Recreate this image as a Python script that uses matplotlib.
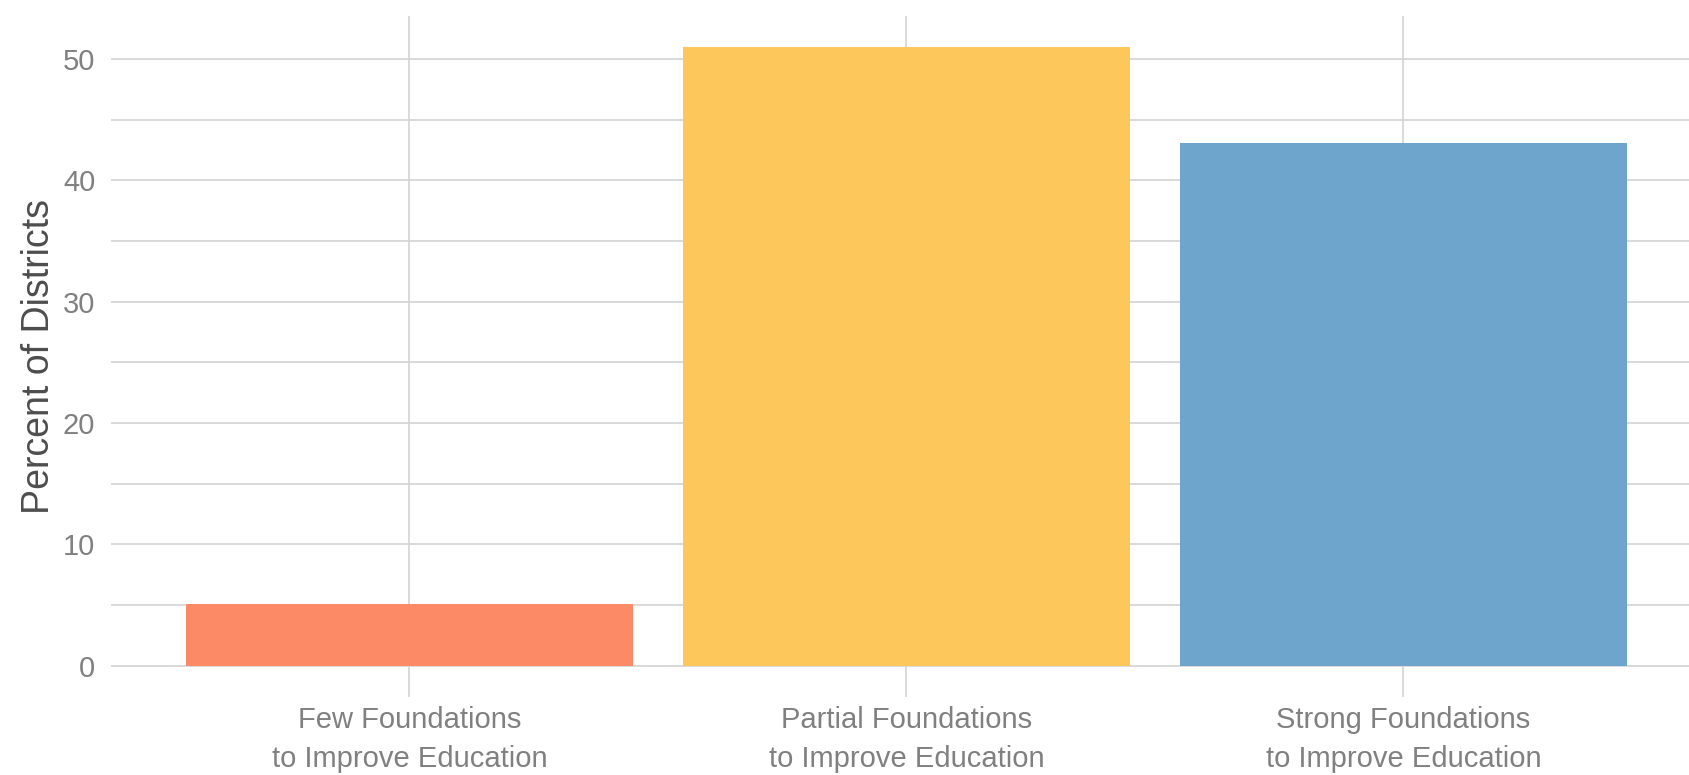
import numpy as np
import matplotlib.pyplot as plt

plt.rcParams["font.family"] = ["Liberation Sans", "DejaVu Sans"]

CATEGORIES = ["Few Foundations\nto Improve Education",
              "Partial Foundations\nto Improve Education",
              "Strong Foundations\nto Improve Education"]
PERCENTS = [5.1, 51.0, 43.1]
COLORS = ["#FD8A66", "#FDC75B", "#6EA5CC"]
Y_TICKS = [0, 10, 20, 30, 40, 50]
Y_MINOR = [5, 15, 25, 35, 45]

GRID = "#d3d3d3"
TICK_GREY = "#808080"

fig = plt.figure(figsize=(16.89, 7.75), dpi=100)
ax = fig.add_axes([0.0659, 0.1012, 0.9416, 0.878])

x = np.arange(len(CATEGORIES))
ax.bar(x, PERCENTS, width=0.9, color=COLORS, zorder=2)

ax.set_xlim(-0.6, 2.6)
ax.set_ylim(-2.55, 53.55)
ax.set_xticks(x)
ax.set_xticklabels(CATEGORIES, linespacing=1.5)
ax.set_yticks(Y_TICKS)
ax.set_yticks(Y_MINOR, minor=True)

ax.grid(True, which="major", color=GRID, linewidth=1.2, zorder=0)
ax.grid(True, which="minor", axis="y", color=GRID, linewidth=1.2, zorder=0)
ax.set_axisbelow(True)

for s in ax.spines.values():
    s.set_visible(False)

ax.tick_params(axis="both", which="both", length=0, labelsize=21,
               labelcolor=TICK_GREY)
ax.tick_params(axis="y", pad=11.5)
ax.tick_params(axis="x", pad=7)

ax.set_ylabel("Percent of Districts", fontsize=27, color="#4d4d4d",
              labelpad=4.5)

fig.savefig("out.png", dpi=100)
